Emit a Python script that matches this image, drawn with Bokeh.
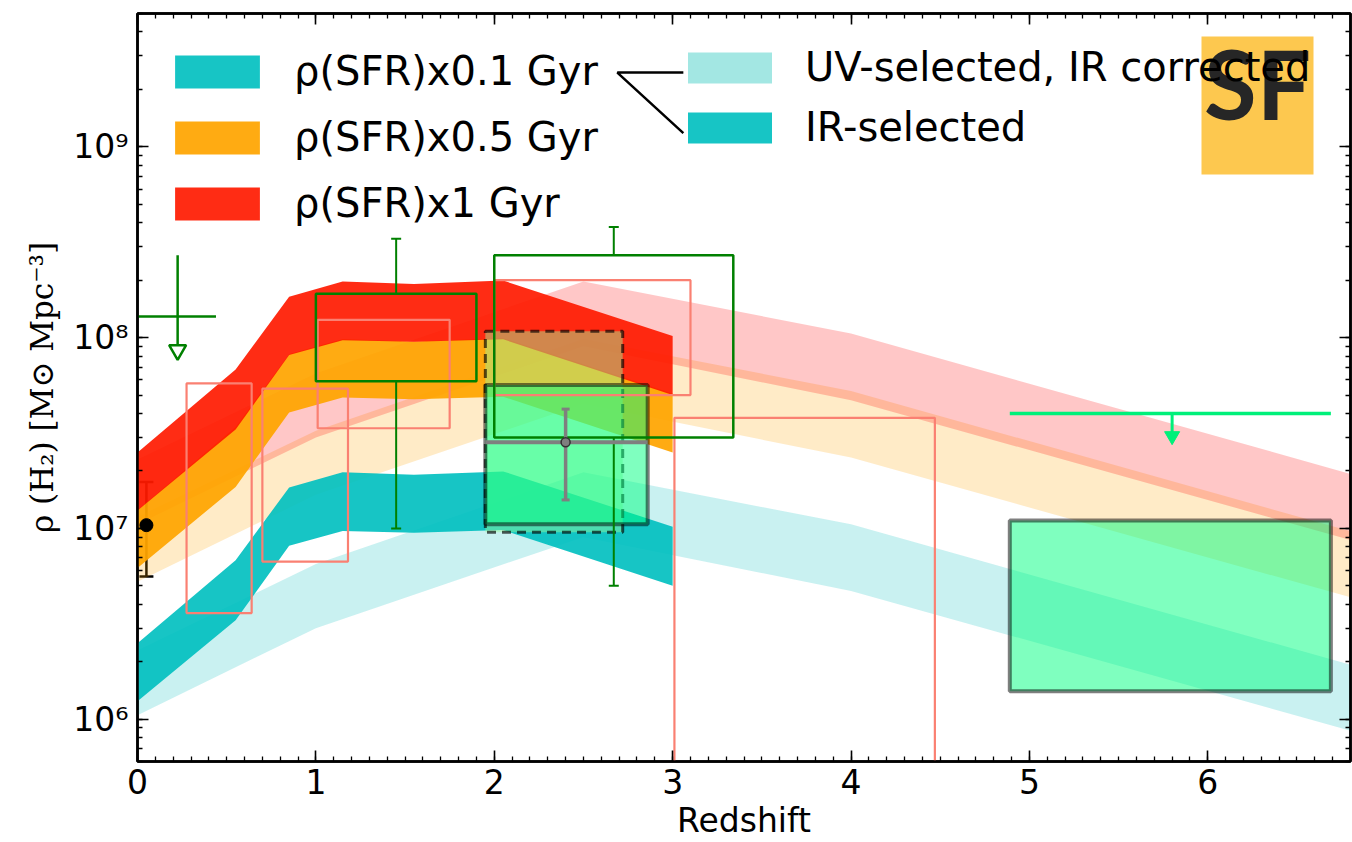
import numpy as np
from bokeh.plotting import figure
from bokeh.models import (Range1d, LogAxis, LinearAxis, FixedTicker, Legend, LegendItem,
                          BoxAnnotation, Label, TeeHead, Whisker,
                          ColumnDataSource, CustomJSTickFormatter)
from bokeh.embed import file_html
from bokeh.resources import INLINE

# ---------------- data ----------------
# Star-formation-rate density bands [Msun / yr / Mpc^3]
z_ir = [0.0, 0.55, 0.85, 1.15, 1.55, 2.05, 3.0]
sfrd_ir_lo = [0.0124, 0.033, 0.081, 0.097, 0.095, 0.098, 0.050]
sfrd_ir_hi = [0.025, 0.068, 0.164, 0.197, 0.191, 0.199, 0.102]

z_uv = [0.0, 1.0, 2.5, 4.0, 6.8]
sfrd_uv_lo = [0.0105, 0.030, 0.090, 0.047, 0.0087]
sfrd_uv_hi = [0.023, 0.065, 0.197, 0.105, 0.0193]

timescales_gyr = [0.1, 0.5, 1.0]
band_labels = ["ρ(SFR)x0.1 Gyr", "ρ(SFR)x0.5 Gyr", "ρ(SFR)x1 Gyr"]
sample_labels = ["UV-selected, IR corrected", "IR-selected"]

# CO-survey constraints: open green boxes with error bars
green_z_lo = [1.0, 2.0]
green_z_hi = [1.9, 3.34]
green_rho_lo = [5.9e7, 3.0e7]
green_rho_hi = [1.7e8, 2.7e8]
green_err_z = [1.45, 2.67]
green_err_lo = [1.0e7, 5.0e6]
green_err_hi = [3.3e8, 3.8e8]

# open salmon boxes
salmon_z_lo = [0.275, 0.70, 1.01, 2.0, 3.01]
salmon_z_hi = [0.64, 1.18, 1.75, 3.10, 4.47]
salmon_rho_lo = [3.6e6, 6.7e6, 3.35e7, 5.0e7, 1.0e4]
salmon_rho_hi = [5.75e7, 5.4e7, 1.24e8, 2.0e8, 3.8e7]

# filled boxes
dashed_z = [1.95, 2.72]
dashed_rho = [9.55e6, 1.08e8]
filled_z_lo = [1.95, 4.89]
filled_z_hi = [2.86, 6.69]
filled_rho_lo = [1.05e7, 1.4e6]
filled_rho_hi = [5.65e7, 1.1e7]

# gray point
gray_z, gray_rho = [2.40], [2.83e7]
gray_err_lo, gray_err_hi = [1.41e7], [4.22e7]
gray_z_lo, gray_z_hi = [1.95], [2.86]

# local black point
loc_z, loc_rho = [0.05], [1.04e7]
loc_err_lo, loc_err_hi = [5.6e6], [1.75e7]

# upper limits (value, z-extent, bar top, arrow-head position)
gl_z, gl_rho, gl_z_lo, gl_z_hi, gl_top, gl_head = 0.225, 1.29e8, 0.0, 0.44, 2.7e8, 8.6e7
sl_z, sl_rho, sl_z_lo, sl_z_hi, sl_head = 5.8, 4.0e7, 4.89, 6.69, 3.05e7

# connector between the two legend blocks
link_z = [3.06, 2.69, 3.06]
link_rho = [2.45e9, 2.45e9, 1.18e9]

# ---------------- figure ----------------
p = figure(width=1352, height=842, x_range=Range1d(0, 6.8), y_range=Range1d(6.0e5, 5.0e9),
           y_axis_type="log", output_backend="svg", toolbar_location=None,
           min_border_left=137, min_border_right=2, min_border_top=13, min_border_bottom=79)
p.grid.visible = False
p.outline_line_color = "black"
p.outline_line_width = 2.5
p.background_fill_color = "white"
p.border_fill_color = "white"

t_yr = [t * 1e9 for t in timescales_gyr]
uv_colors = ["#00bfbf", "#ffa500", "#ff0000"]
uv_alpha = [0.21, 0.22, 0.22]
ir_colors = ["#00bfbf", "#ffa500", "#ff1a00"]
ir_alpha = [0.91, 0.93, 0.92]

uv_r = []
for t, c, a in zip(t_yr, uv_colors, uv_alpha):
    uv_r.append(p.varea(x=z_uv, y1=[v * t for v in sfrd_uv_lo], y2=[v * t for v in sfrd_uv_hi],
                        fill_color=c, fill_alpha=a))
ir_r = []
for t, c, a in zip(t_yr, ir_colors, ir_alpha):
    ir_r.append(p.varea(x=z_ir, y1=[v * t for v in sfrd_ir_lo], y2=[v * t for v in sfrd_ir_hi],
                        fill_color=c, fill_alpha=a))
# legend proxy for the UV-selected sample (zero-height, solid legend swatch colour)
uv_proxy = p.varea(x=z_uv, y1=[v * t_yr[0] for v in sfrd_uv_lo], y2=[v * t_yr[0] for v in sfrd_uv_lo],
                   fill_color="#a3e7e3", fill_alpha=1)

# filled boxes
p.quad(left=[dashed_z[0]], right=[dashed_z[1]], bottom=[dashed_rho[0]], top=[dashed_rho[1]],
       fill_color="#98fb98", fill_alpha=0.45, line_color="black", line_alpha=0.65,
       line_width=3, line_dash="9 6")
p.quad(left=filled_z_lo, right=filled_z_hi, bottom=filled_rho_lo, top=filled_rho_hi,
       fill_color="#00ff7f", fill_alpha=0.5, line_color="black", line_alpha=0.5, line_width=4)

# open boxes
p.quad(left=salmon_z_lo, right=salmon_z_hi, bottom=salmon_rho_lo, top=salmon_rho_hi,
       fill_alpha=0, line_color="#fa8072", line_width=2.2)
p.quad(left=green_z_lo, right=green_z_hi, bottom=green_rho_lo, top=green_rho_hi,
       fill_alpha=0, line_color="green", line_width=2.5)
p.segment(x0=green_err_z, x1=green_err_z, y0=green_rho_hi, y1=green_err_hi, line_color="green", line_width=2)
p.segment(x0=green_err_z, x1=green_err_z, y0=green_rho_lo, y1=green_err_lo, line_color="green", line_width=2)
p.scatter(x=green_err_z + green_err_z, y=green_err_hi + green_err_lo, marker="dash", size=10,
          line_color="green", line_width=2)

# gray point with error bars
p.segment(x0=gray_z_lo, x1=gray_z_hi, y0=gray_rho, y1=gray_rho, line_color="#7f7f7f", line_width=4)
p.segment(x0=gray_z, x1=gray_z, y0=gray_err_lo, y1=gray_err_hi, line_color="#7f7f7f", line_width=3.5)
p.scatter(x=gray_z + gray_z, y=gray_err_lo + gray_err_hi, marker="dash", size=8,
          line_color="#7f7f7f", line_width=3)
p.scatter(x=gray_z, y=gray_rho, size=9, fill_color="#7f7f7f", line_color="#333333", line_width=1.5)

# local black point
lsrc = ColumnDataSource(dict(z=loc_z, lo=loc_err_lo, hi=loc_err_hi))
p.add_layout(Whisker(source=lsrc, base="z", lower="lo", upper="hi", dimension="height",
                     line_color="black", line_width=2.5,
                     upper_head=TeeHead(size=14, line_color="black", line_width=2.5),
                     lower_head=TeeHead(size=14, line_color="black", line_width=2.5)))
p.scatter(x=loc_z, y=loc_rho, size=13, fill_color="black", line_color="black")

# upper limits
p.segment(x0=[gl_z_lo], x1=[gl_z_hi], y0=[gl_rho], y1=[gl_rho], line_color="green", line_width=2.5)
p.segment(x0=[gl_z], x1=[gl_z], y0=[gl_top], y1=[gl_head], line_color="green", line_width=2.5)
p.scatter(x=[gl_z], y=[gl_head], marker="inverted_triangle", size=17,
          fill_color="white", line_color="green", line_width=2.5)
p.segment(x0=[sl_z_lo], x1=[sl_z_hi], y0=[sl_rho], y1=[sl_rho], line_color="#00f07a", line_width=3.5)
p.segment(x0=[sl_z], x1=[sl_z], y0=[sl_rho], y1=[sl_head], line_color="#00f07a", line_width=3)
p.scatter(x=[sl_z], y=[sl_head], marker="inverted_triangle", size=15,
          fill_color="#00f07a", line_color="#00f07a", line_width=1)

# legend connector
p.line(x=link_z, y=link_rho, line_color="black", line_width=2.5)

# ---------------- axes ----------------
x_major = [0, 1, 2, 3, 4, 5, 6]
x_minor = [i / 10 for i in range(0, 69)]
y_major = [1e6, 1e7, 1e8, 1e9]
y_minor = [k * 10 ** n for n in range(5, 10) for k in range(1, 10)]

sup_js = """
const sup = {'0':'\u2070','1':'\u00b9','2':'\u00b2','3':'\u00b3','4':'\u2074','5':'\u2075','6':'\u2076','7':'\u2077','8':'\u2078','9':'\u2079','-':'\u207b'};
const e = Math.round(Math.log10(tick));
return '10' + String(e).split('').map(c => sup[c]).join('');
"""

def style(ax):
    ax.axis_line_width = 2.5
    ax.axis_line_color = "black"
    ax.major_tick_in = 11
    ax.major_tick_out = 0
    ax.minor_tick_in = 5
    ax.minor_tick_out = 0
    ax.major_tick_line_width = 1.6
    ax.minor_tick_line_width = 1.3
    ax.major_tick_line_color = "black"
    ax.minor_tick_line_color = "black"
    ax.major_label_text_font = "DejaVu Sans"
    ax.major_label_text_font_size = "33px"
    ax.major_label_text_color = "black"
    ax.major_label_standoff = 8

xa = p.xaxis[0]
xa.ticker = FixedTicker(ticks=x_major, minor_ticks=x_minor)
style(xa)
xa.major_label_standoff = 7
xa.axis_label = "Redshift"
xa.axis_label_text_font = "DejaVu Sans"
xa.axis_label_text_font_size = "33px"
xa.axis_label_text_font_style = "normal"
xa.axis_label_text_color = "black"
xa.axis_label_standoff = 4

ya = p.yaxis[0]
ya.ticker = FixedTicker(ticks=y_major, minor_ticks=y_minor)
ya.formatter = CustomJSTickFormatter(code=sup_js)
style(ya)
ya.major_label_standoff = 9
ya.axis_label = "ρ (H₂) [M⊙ Mpc⁻³]"
ya.axis_label_text_font = "DejaVu Serif"
ya.axis_label_text_font_size = "31px"
ya.axis_label_text_font_style = "normal"
ya.axis_label_text_color = "black"
ya.axis_label_standoff = 10

blank = CustomJSTickFormatter(code="return ''")
top = LinearAxis(ticker=FixedTicker(ticks=x_major, minor_ticks=x_minor), formatter=blank)
style(top)
top.major_label_text_font_size = "1px"
top.major_label_standoff = 0
p.add_layout(top, "above")
right = LogAxis(ticker=FixedTicker(ticks=y_major, minor_ticks=y_minor), formatter=blank)
style(right)
right.major_label_text_font_size = "1px"
right.major_label_standoff = 0
p.add_layout(right, "right")

# ---------------- legends ----------------
leg_common = dict(padding=0, margin=0, border_line_alpha=0, background_fill_alpha=0,
                  label_text_font="DejaVu Sans", label_text_font_size="40px",
                  label_text_color="black")
leg1 = Legend(items=[LegendItem(label=l, renderers=[r]) for l, r in zip(band_labels, ir_r)],
              location=(27, 535), glyph_width=106, glyph_height=41, label_standoff=24,
              spacing=20, **leg_common)
leg2 = Legend(items=[LegendItem(label=sample_labels[0], renderers=[uv_proxy]),
                     LegendItem(label=sample_labels[1], renderers=[ir_r[0]])],
              location=(540, 611), glyph_width=105, glyph_height=39, label_standoff=23,
              spacing=14, **leg_common)
p.add_layout(leg1)
p.add_layout(leg2)

# logo badge (screen units inside the frame)
logo = dict(left=1064, right=1176, bottom=587, top=725, mid=679)
p.add_layout(BoxAnnotation(left=logo["left"], right=logo["right"], bottom=logo["bottom"], top=logo["top"],
                           left_units="screen", right_units="screen", bottom_units="screen", top_units="screen",
                           fill_color="#fdc84f", fill_alpha=1, line_alpha=0, level="overlay"))
p.add_layout(Label(x=(logo["left"] + logo["right"]) / 2, y=logo["mid"], x_units="screen", y_units="screen",
                   text="SF", text_align="center", text_baseline="middle",
                   text_font="Lato", text_font_style="bold", text_font_size="96px",
                   text_color="#262626", level="overlay"))

open("out.html", "w").write(file_html(p, INLINE))
